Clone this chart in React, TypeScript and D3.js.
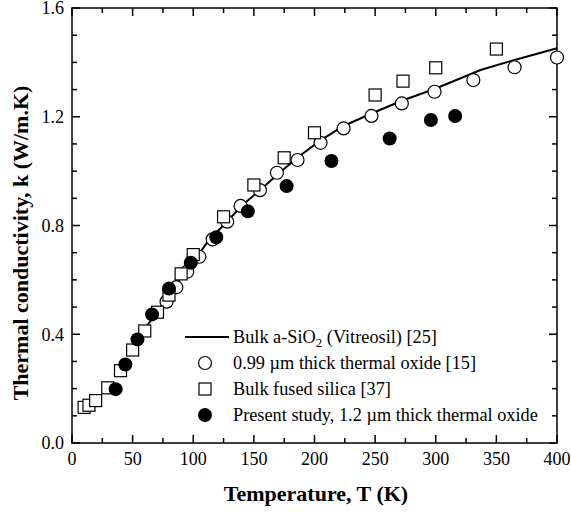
import React, { useRef, useEffect } from "react";
import * as d3 from "d3";

// Bulk a-SiO2 (Vitreosil) [25]
const lineT = [50, 60, 70, 80, 90, 100, 108, 114, 128, 139, 155, 169, 186, 205, 224, 247, 272, 300, 337, 365, 400];
const lineK = [0.35, 0.42, 0.48, 0.545, 0.61, 0.67, 0.716, 0.753, 0.814, 0.869, 0.93, 0.986, 1.05, 1.113, 1.166, 1.212, 1.259, 1.304, 1.372, 1.409, 1.452];

// 0.99 um thick thermal oxide [15]
const oxideT = [78, 86, 95, 105, 116, 128, 139, 155, 169, 186, 205, 224, 247, 272, 299, 331, 365, 400];
const oxideK = [0.52, 0.573, 0.63, 0.685, 0.749, 0.814, 0.872, 0.93, 0.994, 1.041, 1.104, 1.157, 1.203, 1.249, 1.292, 1.335, 1.382, 1.418];

// Bulk fused silica [37]
const silicaT = [10, 14, 19.5, 29.5, 40, 50, 60, 70.5, 80, 90, 100, 125, 150, 175, 200, 250, 273, 300, 350];
const silicaK = [0.131, 0.139, 0.156, 0.203, 0.266, 0.342, 0.412, 0.481, 0.544, 0.622, 0.693, 0.832, 0.949, 1.049, 1.141, 1.28, 1.331, 1.38, 1.449];

// Present study, 1.2 um thick thermal oxide
const presentT = [36, 44, 54, 66, 80, 98, 119, 145, 177, 214, 262, 296, 316];
const presentK = [0.198, 0.289, 0.381, 0.473, 0.568, 0.663, 0.757, 0.852, 0.945, 1.037, 1.12, 1.188, 1.203];

const xTicks = [0, 50, 100, 150, 200, 250, 300, 350, 400];
const yTicks = [0.0, 0.4, 0.8, 1.2, 1.6];

const W = 571;
const H = 513;
const FONT = "'Liberation Serif', 'Times New Roman', serif";

export default function App() {
  const ref = useRef<SVGSVGElement>(null);

  useEffect(() => {
    if (!ref.current) return;
    const svg = d3.select(ref.current);
    svg.selectAll("*").remove();

    const left = 72, right = 557, top = 8, bottom = 443;
    const x = d3.scaleLinear().domain([0, 400]).range([left, right]);
    const y = d3.scaleLinear().domain([0, 1.6]).range([bottom, top]);

    const g = svg.append("g");

    // ticks (inward, all four sides)
    const xMinor = d3.range(0, 401, 25);
    const yMinor = d3.range(0, 1.61, 0.1);
    const isMajorX = (v: number) => v % 50 === 0;
    const isMajorY = (v: number) => Math.abs(Math.round(v * 10) % 4) === 0;

    xMinor.forEach((v) => {
      const len = isMajorX(v) ? 8 : 5;
      g.append("line").attr("x1", x(v)).attr("x2", x(v)).attr("y1", bottom).attr("y2", bottom - len)
        .attr("stroke", "#000").attr("stroke-width", 1.5);
      g.append("line").attr("x1", x(v)).attr("x2", x(v)).attr("y1", top).attr("y2", top + len)
        .attr("stroke", "#000").attr("stroke-width", 1.5);
    });
    yMinor.forEach((v) => {
      const len = isMajorY(v) ? 8 : 5;
      g.append("line").attr("x1", left).attr("x2", left + len).attr("y1", y(v)).attr("y2", y(v))
        .attr("stroke", "#000").attr("stroke-width", 1.5);
      g.append("line").attr("x1", right).attr("x2", right - len).attr("y1", y(v)).attr("y2", y(v))
        .attr("stroke", "#000").attr("stroke-width", 1.5);
    });

    g.append("rect").attr("x", left).attr("y", top).attr("width", right - left).attr("height", bottom - top)
      .attr("fill", "none").attr("stroke", "#000").attr("stroke-width", 1.5);

    // tick labels
    g.selectAll("text.xt").data(xTicks).enter().append("text")
      .attr("x", (d) => x(d)).attr("y", bottom + 22)
      .attr("text-anchor", "middle").attr("font-family", FONT).attr("font-size", 18)
      .text((d) => d);
    g.selectAll("text.yt").data(yTicks).enter().append("text")
      .attr("x", left - 8).attr("y", (d) => y(d)).attr("dy", "0.35em")
      .attr("text-anchor", "end").attr("font-family", FONT).attr("font-size", 18)
      .text((d) => d.toFixed(1));

    // axis titles
    g.append("text").attr("x", 316).attr("y", 501).attr("text-anchor", "middle")
      .attr("font-family", FONT).attr("font-size", 22).attr("font-weight", "bold")
      .text("Temperature, T (K)");
    g.append("text").attr("transform", `translate(28, 243) rotate(-90)`).attr("text-anchor", "middle")
      .attr("font-family", FONT).attr("font-size", 22).attr("font-weight", "bold")
      .text("Thermal conductivity, k (W/m.K)");

    // Vitreosil line
    const line = d3.line<number>().x((d) => x(d)).y((_d, i) => y(lineK[i]));
    g.append("path").attr("d", line(lineT)).attr("fill", "none").attr("stroke", "#000").attr("stroke-width", 2);

    // open circles
    g.selectAll("circle.ox").data(oxideT).enter().append("circle")
      .attr("cx", (d) => x(d)).attr("cy", (_d, i) => y(oxideK[i])).attr("r", 6.5)
      .attr("fill", "#fff").attr("stroke", "#000").attr("stroke-width", 1.2);

    // open squares
    const s = 12;
    g.selectAll("rect.si").data(silicaT).enter().append("rect")
      .attr("x", (d) => x(d) - s / 2).attr("y", (_d, i) => y(silicaK[i]) - s / 2)
      .attr("width", s).attr("height", s)
      .attr("fill", "#fff").attr("stroke", "#000").attr("stroke-width", 1.2);

    // filled circles
    g.selectAll("circle.pr").data(presentT).enter().append("circle")
      .attr("cx", (d) => x(d)).attr("cy", (_d, i) => y(presentK[i])).attr("r", 7)
      .attr("fill", "#000");

    // legend
    const lx = 205, tx = 233;
    const rows = [337, 363, 389, 415];
    g.append("line").attr("x1", 185).attr("x2", 229).attr("y1", rows[0]).attr("y2", rows[0])
      .attr("stroke", "#000").attr("stroke-width", 2);
    g.append("circle").attr("cx", lx).attr("cy", rows[1]).attr("r", 6.5)
      .attr("fill", "#fff").attr("stroke", "#000").attr("stroke-width", 1.2);
    g.append("rect").attr("x", lx - s / 2).attr("y", rows[2] - s / 2).attr("width", s).attr("height", s)
      .attr("fill", "#fff").attr("stroke", "#000").attr("stroke-width", 1.2);
    g.append("circle").attr("cx", lx).attr("cy", rows[3]).attr("r", 7).attr("fill", "#000");

    const t0 = g.append("text").attr("x", tx).attr("y", rows[0]).attr("dy", "0.35em")
      .attr("font-family", FONT).attr("font-size", 18.3);
    t0.append("tspan").text("Bulk a-SiO");
    t0.append("tspan").attr("font-size", 13).attr("dy", 4).text("2");
    t0.append("tspan").attr("dy", -4).text(" (Vitreosil) [25]");

    const labels = ["0.99 \u00b5m thick thermal oxide [15]", "Bulk fused silica [37]", "Present study, 1.2 \u00b5m thick thermal oxide"];
    labels.forEach((l, i) => {
      g.append("text").attr("x", tx).attr("y", rows[i + 1]).attr("dy", "0.35em")
        .attr("font-family", FONT).attr("font-size", 18.3).text(l);
    });
  }, []);

  return (
    <svg ref={ref} width={W} height={H}
      style={{ position: "absolute", left: 0, top: 0, background: "#fff" }} />
  );
}
